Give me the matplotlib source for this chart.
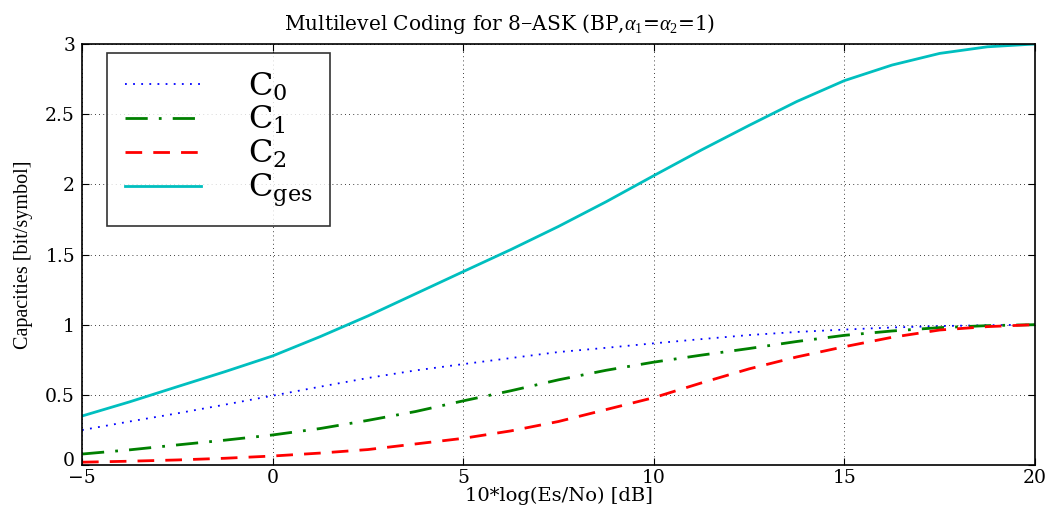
import matplotlib
matplotlib.use("Agg")
import matplotlib.pyplot as plt
import matplotlib.transforms as mtransforms

plt.rcParams['font.family'] = ['DejaVu Serif']
plt.rcParams['mathtext.fontset'] = 'custom'
plt.rcParams['mathtext.rm'] = 'Liberation Serif'
plt.rcParams['mathtext.it'] = 'Liberation Serif:italic'

# SNR in dB
snr = [-5, -3.75, -2.5, -1.25, 0, 1.25, 2.5, 3.75, 5, 6.25, 7.5,
       8.75, 10, 11.25, 12.5, 13.75, 15, 16.25, 17.5, 18.75, 20]

# capacities
c0 = [0.249, 0.31, 0.368, 0.43, 0.494, 0.558, 0.62, 0.674, 0.719, 0.762, 0.805,
      0.835, 0.867, 0.897, 0.926, 0.948, 0.965, 0.98, 0.99, 0.996, 1.0]
c1 = [0.078, 0.108, 0.143, 0.177, 0.214, 0.26, 0.318, 0.381, 0.457, 0.529, 0.607,
      0.675, 0.733, 0.783, 0.83, 0.88, 0.924, 0.955, 0.979, 0.993, 1.0]
c2 = [0.02, 0.027, 0.036, 0.048, 0.064, 0.085, 0.11, 0.15, 0.19, 0.243, 0.31,
      0.395, 0.48, 0.585, 0.685, 0.77, 0.843, 0.91, 0.962, 0.986, 1.0]
cges = [0.349, 0.45, 0.558, 0.665, 0.777, 0.915, 1.062, 1.22, 1.378, 1.535, 1.70,
        1.876, 2.062, 2.245, 2.42, 2.59, 2.739, 2.85, 2.933, 2.98, 3.0]

fig = plt.figure(figsize=(10.53, 5.07), dpi=100)
ax = fig.add_axes([82/1053, 1 - 465/507, (1035-82)/1053, (465-44)/507])

ax.plot(snr, c0, color='blue', linestyle=(0, (1, 3.5)), lw=1.3, label=r'$\mathregular{C_0}$')
ax.plot(snr, c1, color='green', linestyle=(0, (8, 4, 1, 4)), lw=2, label=r'$\mathregular{C_1}$')
ax.plot(snr, c2, color='red', linestyle=(0, (6, 4)), lw=2, label=r'$\mathregular{C_2}$')
ax.plot(snr, cges, color='#00bfbf', linestyle='-', lw=2, label=r'$\mathregular{C_{ges}}$')

ax.set_xlim(-5, 20)
ax.set_ylim(0, 3)
ax.set_xticks([-5, 0, 5, 10, 15, 20])
ax.set_yticks([0, 0.5, 1, 1.5, 2, 2.5, 3])
ax.set_xticklabels(['\u22125', '0', '5', '10', '15', '20'])
ax.set_yticklabels(['0', '0.5', '1', '1.5', '2', '2.5', '3'])
ax.tick_params(direction='in', labelsize=13.5, length=5, top=True, right=True)
ax.tick_params(axis='x', pad=3)
ax.tick_params(axis='y', pad=5)
ax.grid(True, color='black', linestyle=(0, (1, 4)), lw=0.6)
for s in ax.spines.values():
    s.set_linewidth(1.2)

# lift the bottom y label a little so it clears the -5 below it
lbl0 = ax.get_yticklabels()[0]
lbl0.set_transform(lbl0.get_transform() + mtransforms.ScaledTranslation(0, 4/72, fig.dpi_scale_trans))

ax.set_title(r'Multilevel Coding for 8$-$ASK (BP,$\alpha_1$=$\alpha_2$=1)', fontsize=14.5,
             pad=10, x=(500 - 82) / 953)
ax.set_xlabel('10*log(Es/No) [dB]', fontsize=14, labelpad=0)
ax.set_ylabel('Capacities [bit/symbol]', fontsize=14.5, family='Liberation Serif', labelpad=9)

leg = ax.legend(loc='upper left', bbox_to_anchor=(25/953, 1 - 9/421), fontsize=23,
                handlelength=2.4, handletextpad=1.45, labelspacing=0.05,
                frameon=True, fancybox=False, edgecolor='black', borderpad=0.55,
                borderaxespad=0)
leg.get_frame().set_linewidth(1.2)

fig.savefig('out.png', dpi=100)
